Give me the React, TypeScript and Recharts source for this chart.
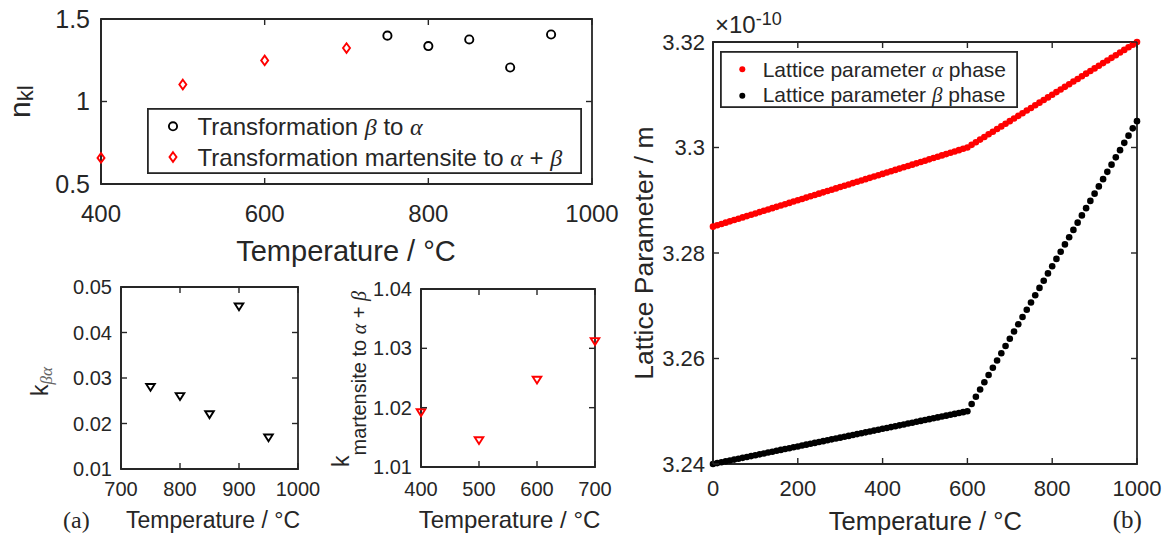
import React from 'react';
import { ScatterChart, Scatter, XAxis, YAxis, Legend, ReferenceArea } from 'recharts';

// (a) top: Avrami exponent n_kl
const nklBetaTemp = [750, 800, 850, 900, 950];
const nklBeta = [1.399, 1.336, 1.376, 1.206, 1.406];
const nklMartTemp = [400, 500, 600, 700];
const nklMart = [0.658, 1.103, 1.249, 1.324];

// (a) bottom left: k beta->alpha
const kBetaTemp = [750, 800, 850, 900, 950];
const kBeta = [0.028, 0.026, 0.022, 0.0457, 0.0169];

// (a) bottom middle: k martensite -> alpha + beta
const kMartTemp = [400, 500, 600, 700];
const kMart = [1.0192, 1.0145, 1.0247, 1.0312];

// (b) lattice parameter (x 1e-10 m)
const latticeTemp = [
  0, 10, 20, 30, 40, 50, 60, 70, 80, 90,
  100, 110, 120, 130, 140, 150, 160, 170, 180, 190,
  200, 210, 220, 230, 240, 250, 260, 270, 280, 290,
  300, 310, 320, 330, 340, 350, 360, 370, 380, 390,
  400, 410, 420, 430, 440, 450, 460, 470, 480, 490,
  500, 510, 520, 530, 540, 550, 560, 570, 580, 590,
  600, 610, 620, 630, 640, 650, 660, 670, 680, 690,
  700, 710, 720, 730, 740, 750, 760, 770, 780, 790,
  800, 810, 820, 830, 840, 850, 860, 870, 880, 890,
  900, 910, 920, 930, 940, 950, 960, 970, 980, 990,
  1000,
];
const alphaLattice = [
  3.285, 3.28525, 3.2855, 3.28575, 3.286, 3.28625, 3.2865, 3.28675, 3.287, 3.28725,
  3.2875, 3.28775, 3.288, 3.28825, 3.2885, 3.28875, 3.289, 3.28925, 3.2895, 3.28975,
  3.29, 3.29025, 3.2905, 3.29075, 3.291, 3.29125, 3.2915, 3.29175, 3.292, 3.29225,
  3.2925, 3.29275, 3.293, 3.29325, 3.2935, 3.29375, 3.294, 3.29425, 3.2945, 3.29475,
  3.295, 3.29525, 3.2955, 3.29575, 3.296, 3.29625, 3.2965, 3.29675, 3.297, 3.29725,
  3.2975, 3.29775, 3.298, 3.29825, 3.2985, 3.29875, 3.299, 3.29925, 3.2995, 3.29975,
  3.3, 3.3005, 3.301, 3.3015, 3.302, 3.3025, 3.303, 3.3035, 3.304, 3.3045,
  3.305, 3.3055, 3.306, 3.3065, 3.307, 3.3075, 3.308, 3.3085, 3.309, 3.3095,
  3.31, 3.3105, 3.311, 3.3115, 3.312, 3.3125, 3.313, 3.3135, 3.314, 3.3145,
  3.315, 3.3155, 3.316, 3.3165, 3.317, 3.3175, 3.318, 3.3185, 3.319, 3.3195,
  3.32,
];
const betaLattice = [
  3.24, 3.24017, 3.24033, 3.2405, 3.24067, 3.24083, 3.241, 3.24117, 3.24133, 3.2415,
  3.24167, 3.24183, 3.242, 3.24217, 3.24233, 3.2425, 3.24267, 3.24283, 3.243, 3.24317,
  3.24333, 3.2435, 3.24367, 3.24383, 3.244, 3.24417, 3.24433, 3.2445, 3.24467, 3.24483,
  3.245, 3.24517, 3.24533, 3.2455, 3.24567, 3.24583, 3.246, 3.24617, 3.24633, 3.2465,
  3.24667, 3.24683, 3.247, 3.24717, 3.24733, 3.2475, 3.24767, 3.24783, 3.248, 3.24817,
  3.24833, 3.2485, 3.24867, 3.24883, 3.249, 3.24917, 3.24933, 3.2495, 3.24967, 3.24983,
  3.25, 3.25138, 3.25275, 3.25413, 3.2555, 3.25688, 3.25825, 3.25963, 3.261, 3.26238,
  3.26375, 3.26513, 3.2665, 3.26788, 3.26925, 3.27063, 3.272, 3.27338, 3.27475, 3.27613,
  3.2775, 3.27888, 3.28025, 3.28163, 3.283, 3.28438, 3.28575, 3.28713, 3.2885, 3.28988,
  3.29125, 3.29263, 3.294, 3.29538, 3.29675, 3.29813, 3.2995, 3.30088, 3.30225, 3.30363,
  3.305,
];

// axis ticks
const nklXTicks = [400, 600, 800, 1000];
const nklYTicks = [0.5, 1, 1.5];
const kBetaXTicks = [700, 800, 900, 1000];
const kBetaYTicks = [0.01, 0.02, 0.03, 0.04, 0.05];
const kMartXTicks = [400, 500, 600, 700];
const kMartYTicks = [1.01, 1.02, 1.03, 1.04];
const latXTicks = [0, 200, 400, 600, 800, 1000];
const latYTicks = [3.24, 3.26, 3.28, 3.3, 3.32];

const SANS = '"Liberation Sans", Arial, sans-serif';
const SERIF = '"Liberation Serif", "Times New Roman", serif';
const INK = '#262626';
const RED = '#ff0000';
const AXIS_LINE = { stroke: INK, strokeWidth: 1.8 };
const TICK_LEN = 6;

const toPoints = (xs: number[], ys: number[]) => xs.map((x, i) => ({ x, y: ys[i] }));

const OpenCircle = (p: any) => (
  <circle cx={p.cx} cy={p.cy} r={4.1} fill="none" stroke="#000" strokeWidth={1.9} />
);
const OpenDiamond = (p: any) => (
  <path
    d={`M${p.cx},${p.cy - 4.8}L${p.cx + 3.5},${p.cy}L${p.cx},${p.cy + 4.8}L${p.cx - 3.5},${p.cy}Z`}
    fill="none"
    stroke={RED}
    strokeWidth={1.9}
  />
);
const downTriangle = (color: string) => (p: any) => (
  <path
    d={`M${p.cx - 4.3},${p.cy - 3.1}L${p.cx + 4.3},${p.cy - 3.1}L${p.cx},${p.cy + 3.7}Z`}
    fill="none"
    stroke={color}
    strokeWidth={1.9}
  />
);
const filledDot = (color: string) => (p: any) => <circle cx={p.cx} cy={p.cy} r={3.3} fill={color} />;

// MATLAB-style ticks: label outside, short marks inside on both opposite sides
const xTick = (size: number, gap: number, plotH: number) => (p: any) => {
  const base = p.y - gap;
  return (
    <g>
      <line x1={p.x} x2={p.x} y1={base} y2={base - TICK_LEN} stroke={INK} strokeWidth={1.4} />
      <line x1={p.x} x2={p.x} y1={base - plotH} y2={base - plotH + TICK_LEN} stroke={INK} strokeWidth={1.4} />
      <text x={p.x} y={p.y} dy="0.71em" textAnchor="middle" fontSize={size} fontFamily={SANS} fill={INK}>
        {String(p.payload.value)}
      </text>
    </g>
  );
};
const yTick = (size: number, gap: number, plotW: number) => (p: any) => {
  const base = p.x + gap;
  return (
    <g>
      <line x1={base} x2={base + TICK_LEN} y1={p.y} y2={p.y} stroke={INK} strokeWidth={1.4} />
      <line x1={base + plotW} x2={base + plotW - TICK_LEN} y1={p.y} y2={p.y} stroke={INK} strokeWidth={1.4} />
      <text x={p.x} y={p.y} dy="0.355em" textAnchor="end" fontSize={size} fontFamily={SANS} fill={INK}>
        {String(p.payload.value)}
      </text>
    </g>
  );
};

const greek = { fontFamily: SERIF, fontStyle: 'italic' as const };

const NklLegend = () => (
  <svg width={435} height={66} style={{ display: 'block' }}>
    <rect x={0.9} y={0.9} width={433.2} height={64.2} fill="#fff" stroke={INK} strokeWidth={1.8} />
    <OpenCircle cx={26} cy={18.3} />
    <OpenDiamond cx={26} cy={49} />
    <text x={50.6} y={27.3} fontSize={24} fontFamily={SANS} fill={INK}>
      Transformation <tspan {...greek}>β</tspan> to <tspan {...greek}>α</tspan>
    </text>
    <text x={50.6} y={58} fontSize={24} fontFamily={SANS} fill={INK}>
      Transformation martensite to <tspan {...greek}>α</tspan> + <tspan {...greek}>β</tspan>
    </text>
  </svg>
);

const LatticeLegend = () => (
  <svg width={298} height={57} style={{ display: 'block' }}>
    <rect x={0.9} y={0.9} width={296.2} height={55.2} fill="#fff" stroke={INK} strokeWidth={1.8} />
    <circle cx={22.3} cy={18.3} r={3} fill={RED} />
    <circle cx={22.3} cy={44.7} r={3} fill="#000" />
    <text x={42.7} y={25.7} fontSize={21} fontFamily={SANS} fill={INK}>
      Lattice parameter <tspan {...greek}>α</tspan> phase
    </text>
    <text x={42.7} y={50.7} fontSize={21} fontFamily={SANS} fill={INK}>
      Lattice parameter <tspan {...greek}>β</tspan> phase
    </text>
  </svg>
);

export default function App() {
  const nklBetaData = toPoints(nklBetaTemp, nklBeta);
  const nklMartData = toPoints(nklMartTemp, nklMart);
  const kBetaData = toPoints(kBetaTemp, kBeta);
  const kMartData = toPoints(kMartTemp, kMart);
  const alphaData = toPoints(latticeTemp, alphaLattice);
  const betaData = toPoints(latticeTemp, betaLattice);

  const box = { fill: 'none', fillOpacity: 0, stroke: INK, strokeWidth: 1.8, ifOverflow: 'visible' as const };

  return (
    <div style={{ position: 'absolute', left: 0, top: 0, width: 1173, height: 538, background: '#fff' }}>
      {/* (a) top panel: plot 491 x 165 */}
      <div style={{ position: 'absolute', left: 0, top: 0 }}>
        <ScatterChart width={620} height={270} margin={{ top: 19, right: 28, bottom: 56, left: 41 }}>
          <XAxis
            dataKey="x"
            type="number"
            domain={[400, 1000]}
            ticks={nklXTicks}
            height={30}
            tick={xTick(24, 21, 165)}
            tickSize={0}
            tickMargin={21}
            axisLine={AXIS_LINE}
            tickLine={false}
          />
          <YAxis
            dataKey="y"
            type="number"
            domain={[0.5, 1.5]}
            ticks={nklYTicks}
            width={60}
            tick={yTick(25, 11, 491)}
            tickSize={0}
            tickMargin={11}
            axisLine={AXIS_LINE}
            tickLine={false}
          />
          <ReferenceArea x1={400} x2={1000} y1={0.5} y2={1.5} {...box} />
          <Scatter data={nklBetaData} shape={OpenCircle} isAnimationActive={false} />
          <Scatter data={nklMartData} shape={OpenDiamond} isAnimationActive={false} />
          <Legend
            layout="vertical"
            align="center"
            verticalAlign="middle"
            content={() => <NklLegend />}
            wrapperStyle={{ left: 146.7, top: 107.7, width: 435, height: 66 }}
          />
        </ScatterChart>
      </div>

      {/* (a) bottom left: plot 177 x 182 */}
      <div style={{ position: 'absolute', left: 0, top: 260 }}>
        <ScatterChart width={320} height={278} margin={{ top: 27, right: 22, bottom: 39, left: 61 }}>
          <XAxis
            dataKey="x"
            type="number"
            domain={[700, 1000]}
            ticks={kBetaXTicks}
            height={30}
            tick={xTick(20, 13, 182)}
            tickSize={0}
            tickMargin={13}
            axisLine={AXIS_LINE}
            tickLine={false}
          />
          <YAxis
            dataKey="y"
            type="number"
            domain={[0.01, 0.05]}
            ticks={kBetaYTicks}
            width={60}
            tick={yTick(20, 9, 177)}
            tickSize={0}
            tickMargin={9}
            axisLine={AXIS_LINE}
            tickLine={false}
          />
          <ReferenceArea x1={700} x2={1000} y1={0.01} y2={0.05} {...box} />
          <Scatter data={kBetaData} shape={downTriangle('#000')} isAnimationActive={false} />
        </ScatterChart>
      </div>

      {/* (a) bottom middle: plot 174 x 178 */}
      <div style={{ position: 'absolute', left: 320, top: 260 }}>
        <ScatterChart width={300} height={278} margin={{ top: 29, right: 25, bottom: 41, left: 41 }}>
          <XAxis
            dataKey="x"
            type="number"
            domain={[400, 700]}
            ticks={kMartXTicks}
            height={30}
            tick={xTick(20, 15, 178)}
            tickSize={0}
            tickMargin={15}
            axisLine={AXIS_LINE}
            tickLine={false}
          />
          <YAxis
            dataKey="y"
            type="number"
            domain={[1.01, 1.04]}
            ticks={kMartYTicks}
            width={60}
            tick={yTick(20, 9, 174)}
            tickSize={0}
            tickMargin={9}
            axisLine={AXIS_LINE}
            tickLine={false}
          />
          <ReferenceArea x1={400} x2={700} y1={1.01} y2={1.04} {...box} />
          <Scatter data={kMartData} shape={downTriangle(RED)} isAnimationActive={false} />
        </ScatterChart>
      </div>

      {/* (b) lattice parameter: plot 424 x 422 */}
      <div style={{ position: 'absolute', left: 620, top: 0 }}>
        <ScatterChart width={553} height={538} margin={{ top: 42, right: 36, bottom: 44, left: 33 }}>
          <XAxis
            dataKey="x"
            type="number"
            domain={[0, 1000]}
            ticks={latXTicks}
            height={30}
            tick={xTick(22, 16, 422)}
            tickSize={0}
            tickMargin={16}
            axisLine={AXIS_LINE}
            tickLine={false}
          />
          <YAxis
            dataKey="y"
            type="number"
            domain={[3.24, 3.32]}
            ticks={latYTicks}
            width={60}
            tick={yTick(22, 8, 424)}
            tickSize={0}
            tickMargin={8}
            axisLine={AXIS_LINE}
            tickLine={false}
          />
          <ReferenceArea x1={0} x2={1000} y1={3.24} y2={3.32} {...box} />
          <Scatter data={alphaData} shape={filledDot(RED)} isAnimationActive={false} />
          <Scatter data={betaData} shape={filledDot('#000')} isAnimationActive={false} />
          <Legend
            layout="vertical"
            align="center"
            verticalAlign="middle"
            content={() => <LatticeLegend />}
            wrapperStyle={{ left: 100, top: 51, width: 298, height: 57 }}
          />
        </ScatterChart>
      </div>

      {/* axis titles and panel letters */}
      <svg
        width={1173}
        height={538}
        style={{ position: 'absolute', left: 0, top: 0, pointerEvents: 'none' }}
        fontFamily={SANS}
        fill={INK}
      >
        <text x={346} y={261} fontSize={29} textAnchor="middle">Temperature / °C</text>
        <text transform="translate(30,118) rotate(-90)" fontSize={30}>
          n<tspan fontSize={22} dy={3}>kl</tspan>
        </text>

        <text x={213} y={528} fontSize={23} textAnchor="middle">Temperature / °C</text>
        <text x={63} y={528} fontSize={24} fontFamily={SERIF}>(a)</text>
        <text transform="translate(48,396) rotate(-90)" fontSize={23}>
          k<tspan {...greek} fontSize={17} dy={4} fill="#666">βα</tspan>
        </text>

        <text x={509.5} y={528} fontSize={24} textAnchor="middle">Temperature / °C</text>
        <text transform="translate(349,467) rotate(-90)" fontSize={23}>
          k<tspan fontSize={20} dy={17}>martensite to </tspan>
          <tspan {...greek} fontSize={20}>α</tspan>
          <tspan fontSize={20}> + </tspan>
          <tspan {...greek} fontSize={20}>β</tspan>
        </text>

        <text x={925.3} y={530} fontSize={25.5} textAnchor="middle">Temperature / °C</text>
        <text x={1112.7} y={528} fontSize={25} fontFamily={SERIF}>(b)</text>
        <text transform="translate(653,253) rotate(-90)" fontSize={26.5} textAnchor="middle">
          Lattice Parameter / m
        </text>
        <text x={715} y={33} fontSize={24}>
          ×10<tspan fontSize={18} dy={-8}>-10</tspan>
        </text>
      </svg>
    </div>
  );
}
